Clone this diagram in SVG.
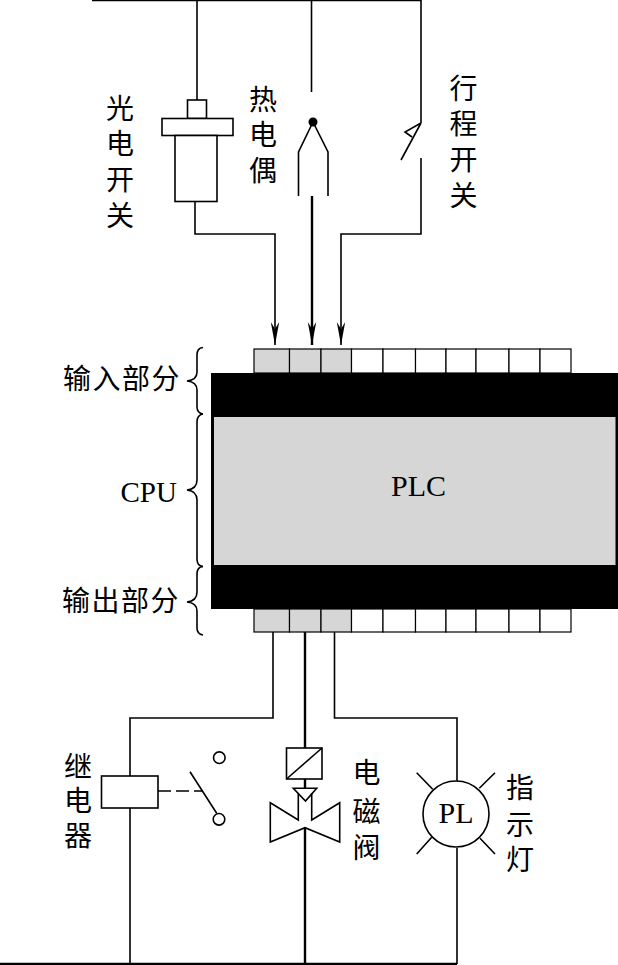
<svg xmlns="http://www.w3.org/2000/svg" width="618" height="965" viewBox="0 0 618 965">
<style>
.l{fill:none;stroke:#000;stroke-width:1.6}
.t{stroke-width:2.4}
.n{fill:#fff;stroke:#000;stroke-width:1.6}
.g{fill:#d6d6d6;stroke:#000;stroke-width:1.2}
.w{fill:#fff;stroke:#000;stroke-width:1.2}
text{font-family:"Liberation Serif","Noto Sans CJK SC",serif;font-size:28px;fill:#000}
.c{text-anchor:middle}
.b{font-size:30px}
</style>
<defs><marker id="a" markerUnits="userSpaceOnUse" markerWidth="24" markerHeight="10" refX="23" refY="5" orient="auto"><path d="M23 5L0 0.800L7 5L0 9.200Z" fill="#000"/></marker></defs>
<rect width="618" height="965" fill="#fff"/>
<g id="connectors">
<path class="l" d="M92 0.500H421"/>
<path class="l" d="M197 0V100"/>
<path class="l" d="M311.500 0V92"/>
<path class="l" d="M421 0V123"/>
<path class="l" d="M195 201V234H275V345" marker-end="url(#a)"/>
<path class="l t" d="M312 196V345" marker-end="url(#a)"/>
<path class="l" d="M421 158V234H341V345" marker-end="url(#a)"/>
<path class="l" d="M273 632V718H130V776M130 808V964"/>
<path class="l t" d="M305 632V748M305 779V788M305 828V964"/>
<path class="l" d="M334.500 632V718H457V781M457 848V964"/>
<path class="l t" d="M0 964H457"/>
<path class="l" d="M158 791H203" stroke-dasharray="13 5"/>
</g>
<g id="photo-switch">
<rect class="n" x="187.500" y="100" width="19" height="18.500"/>
<rect class="n" x="162" y="118.500" width="71" height="17"/>
<rect class="n" x="175" y="135.500" width="42" height="66"/>
<text class="c" x="120" y="119">光</text><text class="c" x="120" y="154">电</text><text class="c" x="120" y="190">开</text><text class="c" x="120" y="226">关</text>
</g>
<g id="thermocouple">
<circle cx="313" cy="122" r="4.500" fill="#000"/>
<path class="l" d="M313 122L298.500 152V196M313 122L328 152V196"/>
<text class="c" x="263" y="110">热</text><text class="c" x="263" y="145">电</text><text class="c" x="263" y="181">偶</text>
</g>
<g id="limit-switch">
<path class="l" d="M421 123L401 160M421 123L405 132L412 137"/>
<text class="c" x="463.500" y="99">行</text><text class="c" x="463.500" y="134">程</text><text class="c" x="463.500" y="170">开</text><text class="c" x="463.500" y="206">关</text>
</g>
<g id="plc">
<rect x="211" y="373" width="407" height="236" fill="#000"/>
<rect x="214" y="417" width="401.500" height="148" fill="#d6d6d6"/>
<text class="c b" x="418.500" y="496">PLC</text>
</g>
<g id="input-terminals">
<rect class="g" x="254" y="349" width="35.500" height="24"/><rect class="g" x="289.500" y="349" width="31.500" height="24"/><rect class="g" x="321" y="349" width="30.500" height="24"/>
<rect class="w" x="351.500" y="349" width="31.500" height="24"/><rect class="w" x="383" y="349" width="32.500" height="24"/><rect class="w" x="415.500" y="349" width="30.500" height="24"/><rect class="w" x="446" y="349" width="30" height="24"/><rect class="w" x="476" y="349" width="33" height="24"/><rect class="w" x="509" y="349" width="31" height="24"/><rect class="w" x="540" y="349" width="31" height="24"/>
</g>
<g id="output-terminals">
<rect class="g" x="254" y="609" width="35.500" height="23"/><rect class="g" x="289.500" y="609" width="31.500" height="23"/><rect class="g" x="321" y="609" width="30.500" height="23"/>
<rect class="w" x="351.500" y="609" width="31.500" height="23"/><rect class="w" x="383" y="609" width="32.500" height="23"/><rect class="w" x="415.500" y="609" width="30.500" height="23"/><rect class="w" x="446" y="609" width="30" height="23"/><rect class="w" x="476" y="609" width="33" height="23"/><rect class="w" x="509" y="609" width="31" height="23"/><rect class="w" x="540" y="609" width="31" height="23"/>
</g>
<g id="brace-input">
<path class="l" d="M203 347.500Q197 348 197 355V372Q197 380 187 381Q197 382 197 390V407Q197 413 203 414"/>
<text x="63" y="389" letter-spacing="1.500">输入部分</text>
</g>
<g id="brace-cpu">
<path class="l" d="M203 414Q197 415 197 422V480Q197 489 187 490Q197 491 197 500V559Q197 566 203 566.500"/>
<text class="b" x="120.500" y="502" style="font-size:29px">CPU</text>
</g>
<g id="brace-output">
<path class="l" d="M203 566.500Q197 567 197 574V592Q197 601 187 602Q197 603 197 611V628Q197 634 203 635"/>
<text x="62" y="611" letter-spacing="1.500">输出部分</text>
</g>
<g id="relay">
<rect class="n" x="101.500" y="776" width="56.500" height="32"/>
<circle class="l" cx="219.300" cy="757.700" r="5.800"/>
<circle class="l" cx="219" cy="819.300" r="5.800"/>
<path class="l" d="M190 771.700L216.700 813.300"/>
<text class="c" x="78" y="777">继</text><text class="c" x="78" y="811">电</text><text class="c" x="78" y="846">器</text>
</g>
<g id="solenoid-valve">
<rect class="n" x="286.500" y="748" width="35.500" height="31"/>
<path class="l" d="M286.500 779L322 748"/>
<path class="l" d="M298.300 793V820L270.300 802.700V842L305 827.700L339.700 842V802.700L311.700 820V793"/>
<path class="l" d="M293.300 788.300H316.700L305.500 801Z"/>
<text class="c" x="366.500" y="783">电</text><text class="c" x="366.500" y="822">磁</text><text class="c" x="366.500" y="858">阀</text>
</g>
<g id="pilot-lamp">
<circle class="n" cx="456" cy="814" r="33"/>
<path class="l" d="M416.700 772.700L432.700 789.300M495 772.700L479.300 788.300M416.700 854L431.700 837.300M495 854L480 838.300"/>
<text class="c b" x="456" y="823">PL</text>
<text class="c" x="520" y="798">指</text><text class="c" x="520" y="835">示</text><text class="c" x="520" y="870">灯</text>
</g>
</svg>
